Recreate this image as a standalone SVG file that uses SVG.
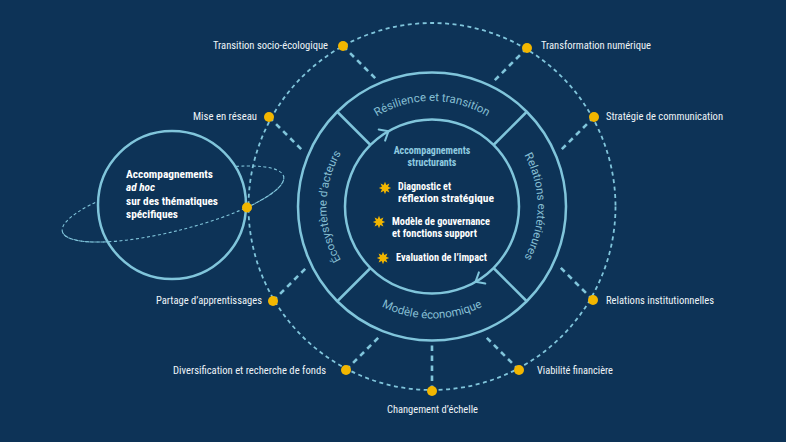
<svg xmlns="http://www.w3.org/2000/svg" xmlns:xlink="http://www.w3.org/1999/xlink" width="786" height="442" viewBox="0 0 786 442">
<defs>
<style>
.bg{fill:#0d3357}
.ring{fill:none;stroke:#80c5db;stroke-width:2.5}
.orbit{fill:none;stroke:#80c5db;stroke-width:1.8;stroke-dasharray:4 3.5}
.conn{fill:none;stroke:#80c5db;stroke-width:2.6;stroke-dasharray:5.5 4.5}
.ell{fill:none;stroke:#80c5db;stroke-width:1.1;stroke-dasharray:3 2.5}
.dot{fill:#f2b600}
.star{fill:#f2b600}
.lbl{font-family:"Roboto Condensed","Roboto","Liberation Sans",sans-serif;font-size:10px;fill:#eef3f7}
.arc{font-family:"Roboto","Liberation Sans",sans-serif;font-size:11.5px;fill:#86bfd3}
.ctitle{font-family:"Roboto Condensed","Roboto","Liberation Sans",sans-serif;font-size:10px;font-weight:bold;fill:#8fcbe0}
.ctext{font-family:"Roboto Condensed","Roboto","Liberation Sans",sans-serif;font-size:10px;font-weight:bold;fill:#ffffff}
.ltext{font-family:"Roboto Condensed","Roboto","Liberation Sans",sans-serif;font-size:11px;font-weight:bold;fill:#ffffff}
.arrow{fill:none;stroke:#80c5db;stroke-width:2;stroke-linecap:round;stroke-linejoin:round}
</style>
<path id="pTop" d="M 326.5 206.5 A 105.5 105.5 0 0 1 537.5 206.5"/>
<path id="pLeft" d="M 432 312 A 105.5 105.5 0 0 1 432 101"/>
<path id="pRight" d="M 432 101 A 105.5 105.5 0 0 1 432 312"/>
<path id="pBottom" d="M 320 206.5 A 112 112 0 0 0 544 206.5"/>
<polygon id="starShape" points="0,-6.2 1.3,-3.1 4.4,-4.4 3.1,-1.3 6.2,0 3.1,1.3 4.4,4.4 1.3,3.1 0,6.2 -1.3,3.1 -4.4,4.4 -3.1,1.3 -6.2,0 -3.1,-1.3 -4.4,-4.4 -1.3,-3.1"/>
</defs>
<rect class="bg" x="0" y="0" width="786" height="442"/>

<g id="orbit-main">
<circle class="orbit" cx="432" cy="206.5" r="183.5"/>
</g>

<g id="connectors">
<line class="conn" x1="343" y1="46" x2="376" y2="79"/>
<line class="conn" x1="527" y1="48" x2="493.3" y2="81.7"/>
<line class="conn" x1="269" y1="117" x2="304" y2="152"/>
<line class="conn" x1="594" y1="117" x2="559.6" y2="151.4"/>
<line class="conn" x1="593" y1="300" x2="558" y2="265"/>
<line class="conn" x1="273" y1="301" x2="307" y2="267"/>
<line class="conn" x1="346" y1="370" x2="380" y2="336"/>
<line class="conn" x1="519" y1="370" x2="484" y2="335"/>
<line class="conn" x1="432" y1="391" x2="432" y2="345.5"/>
</g>

<g id="core">
<circle class="ring" cx="432" cy="206.5" r="134"/>
<circle class="ring" cx="432" cy="206.5" r="87"/>
<line class="ring" x1="370.5" y1="145" x2="337.25" y2="111.75"/>
<line class="ring" x1="493.5" y1="145" x2="526.75" y2="111.75"/>
<line class="ring" x1="370.5" y1="268" x2="337.25" y2="301.25"/>
<line class="ring" x1="493.5" y1="268" x2="526.75" y2="301.25"/>
<polyline class="arrow" points="378.7,129.5 388.5,131.2 385.1,140.6"/>
<polyline class="arrow" points="485.3,283.5 475.5,281.8 478.9,272.4"/>
</g>

<g id="ring-labels">
<text class="arc"><textPath href="#pTop" startOffset="50%" text-anchor="middle">Résilience et transition</textPath></text>
<text class="arc"><textPath href="#pLeft" startOffset="50%" text-anchor="middle">Écosystème d’acteurs</textPath></text>
<text class="arc"><textPath href="#pRight" startOffset="50%" text-anchor="middle">Relations extérieures</textPath></text>
<text class="arc"><textPath href="#pBottom" startOffset="50%" text-anchor="middle">Modèle économique</textPath></text>
</g>

<g id="center">
<text class="ctitle" x="432" y="154" text-anchor="middle">Accompagnements</text>
<text class="ctitle" x="432" y="166" text-anchor="middle">structurants</text>
<use href="#starShape" class="star" x="385" y="188"/>
<text class="ctext" x="398" y="190" textLength="53" lengthAdjust="spacingAndGlyphs">Diagnostic et</text>
<text class="ctext" x="398" y="201.5" textLength="96" lengthAdjust="spacingAndGlyphs">réflexion stratégique</text>
<use href="#starShape" class="star" x="379" y="222"/>
<text class="ctext" x="392" y="225" textLength="98" lengthAdjust="spacingAndGlyphs">Modèle de gouvernance</text>
<text class="ctext" x="392" y="237" textLength="85" lengthAdjust="spacingAndGlyphs">et fonctions support</text>
<use href="#starShape" class="star" x="383" y="258"/>
<text class="ctext" x="396" y="260.7" textLength="91" lengthAdjust="spacingAndGlyphs">Evaluation de l’impact</text>
</g>

<g id="adhoc">
<g transform="translate(173 204) rotate(-14)">
<ellipse class="ell" cx="0" cy="0" rx="114" ry="27"/>
</g>
<circle cx="172" cy="205" r="74" fill="#0d3357" stroke="#80c5db" stroke-width="2.5"/>
<g transform="translate(173 204) rotate(-14)">
<path class="ell" d="M -114 0 A 114 27 0 0 0 114 0"/>
</g>
<text class="ltext" x="126" y="177.5" textLength="87" lengthAdjust="spacingAndGlyphs">Accompagnements</text>
<text class="ltext" x="126" y="191" font-style="italic" textLength="29" lengthAdjust="spacingAndGlyphs">ad hoc</text>
<text class="ltext" x="126" y="204.5" textLength="92" lengthAdjust="spacingAndGlyphs">sur des thématiques</text>
<text class="ltext" x="126" y="218" textLength="52" lengthAdjust="spacingAndGlyphs">spécifiques</text>
<circle class="dot" cx="247" cy="207.5" r="5"/>
</g>

<g id="n-transition">
<circle class="dot" cx="343" cy="46" r="5"/>
<text class="lbl" x="213" y="48.5" textLength="115" lengthAdjust="spacingAndGlyphs">Transition socio-écologique</text>
</g>
<g id="n-numerique">
<circle class="dot" cx="527" cy="48" r="5"/>
<text class="lbl" x="541" y="48.5" textLength="110" lengthAdjust="spacingAndGlyphs">Transformation numérique</text>
</g>
<g id="n-reseau">
<circle class="dot" cx="269" cy="117" r="5"/>
<text class="lbl" x="193" y="119.5" textLength="64" lengthAdjust="spacingAndGlyphs">Mise en réseau</text>
</g>
<g id="n-communication">
<circle class="dot" cx="594" cy="117" r="5"/>
<text class="lbl" x="606" y="120" textLength="117" lengthAdjust="spacingAndGlyphs">Stratégie de communication</text>
</g>
<g id="n-partage">
<circle class="dot" cx="273" cy="301" r="5"/>
<text class="lbl" x="156" y="303.5" textLength="106" lengthAdjust="spacingAndGlyphs">Partage d’apprentissages</text>
</g>
<g id="n-institutionnelles">
<circle class="dot" cx="593" cy="300" r="5"/>
<text class="lbl" x="606" y="303.5" textLength="108" lengthAdjust="spacingAndGlyphs">Relations institutionnelles</text>
</g>
<g id="n-diversification">
<circle class="dot" cx="346" cy="370" r="5"/>
<text class="lbl" x="173" y="374" textLength="153" lengthAdjust="spacingAndGlyphs">Diversification et recherche de fonds</text>
</g>
<g id="n-viabilite">
<circle class="dot" cx="519" cy="370" r="5"/>
<text class="lbl" x="537" y="374" textLength="76" lengthAdjust="spacingAndGlyphs">Viabilité financière</text>
</g>
<g id="n-echelle">
<circle class="dot" cx="432" cy="391" r="5"/>
<text class="lbl" x="387" y="413" textLength="91" lengthAdjust="spacingAndGlyphs">Changement d’échelle</text>
</g>
</svg>
